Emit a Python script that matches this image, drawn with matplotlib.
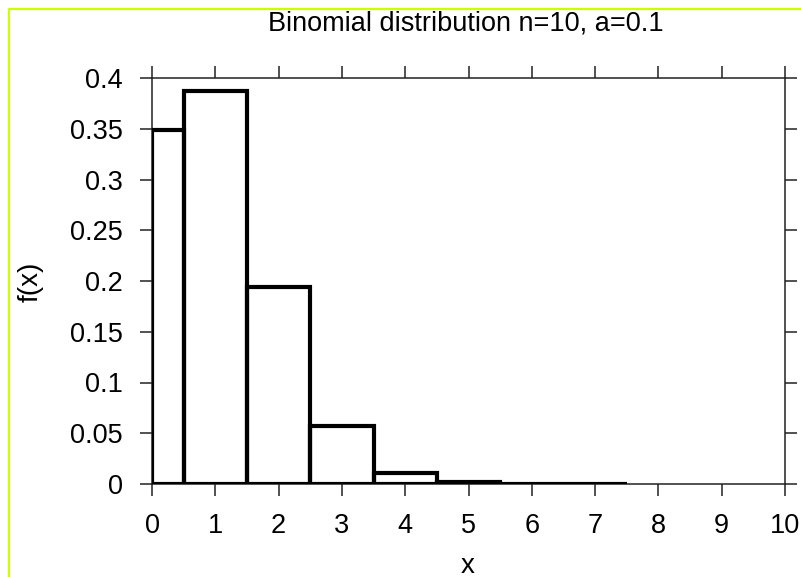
import numpy as np
import matplotlib.pyplot as plt
from matplotlib.patches import Rectangle

# binomial pmf values (n=10, a=0.1)
x_vals = [0, 1, 2, 3, 4, 5, 6, 7]
f_vals = [0.349, 0.387, 0.194, 0.057, 0.011, 0.0015, 0.0001, 0.00001]
x_ticks = list(range(0, 11))
y_ticks = [0, 0.05, 0.1, 0.15, 0.2, 0.25, 0.3, 0.35, 0.4]
x_min, x_max = 0, 10

plt.rcParams["font.family"] = ["Liberation Sans", "DejaVu Sans"]

fig = plt.figure(figsize=(8.01, 5.77), dpi=100)

# yellow-green frame, cut off at right and bottom
fig.patches.append(Rectangle((9 / 801, -0.1), 1.2, 1 - 9 / 577 + 0.1,
                             transform=fig.transFigure, fill=False,
                             edgecolor="#ccff00", linewidth=1.6, zorder=0))

ax = fig.add_axes([152 / 801, 93 / 577, (785 - 152) / 801, (484 - 78) / 577])

# bins are clipped to the axis range (outline drawn at x=0 as in the original)
lefts = [max(x - 0.5, x_min) for x in x_vals]
rights = [min(x + 0.5, x_max) for x in x_vals]
widths = [r - l for l, r in zip(lefts, rights)]
ax.bar(lefts, f_vals, width=widths, align="edge", fill=False,
       edgecolor="black", linewidth=3.0, zorder=3)

ax.set_xlim(x_min, x_max)
ax.set_ylim(0, 0.4)
ax.set_xticks(x_ticks)
ax.set_yticks(y_ticks)
ax.set_yticklabels([f"{v:g}" for v in y_ticks])

for s in ax.spines.values():
    s.set_linewidth(1.1)
    s.set_color("#222222")

ax.tick_params(direction="out", length=8.6, width=1.1, color="#222222",
               top=True, right=True, labelsize=19.5, pad=12.5)

fig.text(466 / 801, 1 - 24 / 577, "Binomial distribution n=10, a=0.1",
         ha="center", va="center", fontsize=19.5)
fig.text(468 / 801, 1 - 566 / 577, "x", ha="center", va="center", fontsize=20)
fig.text(31 / 801, 1 - 282 / 577, "f(x)", ha="center", va="center",
         rotation=90, fontsize=20)

fig.savefig("out.png", dpi=100)
